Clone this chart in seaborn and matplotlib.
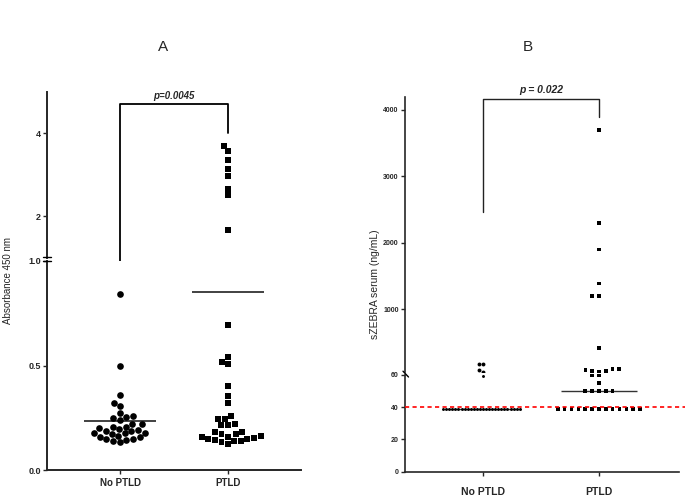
import matplotlib
matplotlib.use("Agg")
import matplotlib.pyplot as plt
import numpy as np
import seaborn as sns
from matplotlib.lines import Line2D
from matplotlib.transforms import Bbox, TransformedBbox

# ---- data ----
GROUPS = ["No PTLD", "PTLD"]

# panel A: absorbance at 450 nm (mean line)
A_NO_PTLD = [0.844, 0.498, 0.36, 0.322, 0.306, 0.271, 0.26, 0.255, 0.247, 0.238,
             0.219, 0.219, 0.207, 0.204, 0.2, 0.195, 0.193, 0.188, 0.185, 0.178,
             0.178, 0.175, 0.172, 0.163, 0.16, 0.156, 0.148, 0.148, 0.144, 0.14, 0.132]
A_PTLD = [3.69, 3.56, 3.35, 3.13, 2.97, 2.66, 2.50, 1.67,
          0.694, 0.542, 0.517, 0.506, 0.403, 0.353, 0.319, 0.26, 0.243, 0.243,
          0.22, 0.215, 0.215, 0.18, 0.18, 0.17, 0.17, 0.165, 0.16, 0.16, 0.155,
          0.15, 0.15, 0.145, 0.14, 0.14, 0.135, 0.125]
A_BREAK = 1.0
A_P = "p=0.0045"

# panel B: sZEBRA serum, ng/mL (median line)
B_NO_PTLD = [38.8] * 26 + [59, 61, 85, 170, 170]
B_PTLD = [3700, 2300, 1900, 1390, 1200, 1200, 415, 100, 100, 82, 72, 72, 61,
          59.5, 59.5, 54.7] + [50] * 5 + [38.8] * 13
B_BREAK = 60
B_CUTOFF = 40
B_P = "p = 0.022"

W, H = 685, 499

sns.set_style("ticks")
plt.rcParams["font.family"] = ["Liberation Sans", "DejaVu Sans"]

fig = plt.figure(figsize=(W / 100, H / 100), dpi=100)


def box(x0, y0, x1, y1):
    return [x0 / W, 1 - y1 / H, (x1 - x0) / W, (y1 - y0) / H]


def fig_line(xs, ys, lw=1.0):
    fig.add_artist(Line2D([x / W for x in xs], [1 - y / H for y in ys],
                          transform=fig.transFigure, color="black", lw=lw))


def swarm(ax, group, vals, marker, size, spacing_lw=0.0):
    if len(vals) == 0:
        return
    sns.swarmplot(x=[group] * len(vals), y=vals, order=GROUPS, ax=ax,
                  color="black", marker=marker, size=size, linewidth=spacing_lw)
    coll = ax.collections[-1]
    coll.set_edgecolor("none")
    # let markers sitting on the break edge show, but nothing far outside
    coll.set_clip_box(TransformedBbox(Bbox([[-0.05, -0.04], [1.05, 1.04]]),
                                      ax.transAxes))


def style(ax, top, lw, fs, xlim):
    for s in ["top", "right"]:
        ax.spines[s].set_visible(False)
    ax.spines["left"].set_linewidth(lw)
    ax.spines["bottom"].set_linewidth(lw)
    ax.tick_params(axis="y", direction="out", length=3, width=1, pad=1.5,
                   labelsize=fs)
    for t in ax.get_yticklabels():
        t.set_fontweight("bold")
    if top:
        ax.spines["bottom"].set_visible(False)
        ax.tick_params(axis="x", bottom=False, labelbottom=False)
    ax.set_xlim(*xlim)
    ax.set_xlabel("")
    ax.set_ylabel("")


# ---------------- panel A ----------------
a_top = fig.add_axes(box(47, 92, 301, 257.5))
a_bot = fig.add_axes(box(47, 261, 301, 470))

a_no = np.array(A_NO_PTLD)
a_pt = np.array(A_PTLD)
swarm(a_top, "No PTLD", a_no[a_no > A_BREAK], "o", 4.8)
swarm(a_top, "PTLD", a_pt[a_pt > A_BREAK], "s", 4.3, 0.4)
swarm(a_bot, "No PTLD", a_no[a_no <= A_BREAK], "o", 4.8)
swarm(a_bot, "PTLD", a_pt[a_pt <= A_BREAK], "s", 4.3, 0.4)

for i, vals in enumerate([a_no, a_pt]):
    a_bot.hlines(np.mean(vals), i - 0.333, i + 0.333, color="#333333", lw=1.3)

a_top.set_ylim(A_BREAK, 4.99)
a_top.set_yticks([2, 4])
a_top.set_yticklabels(["2", "4"])
a_bot.set_ylim(0, A_BREAK)
a_bot.set_yticks([0, 0.5, 1.0])
a_bot.set_yticklabels(["0.0", "0.5", "1.0"])
a_bot.set_xticks([0, 1])
a_bot.set_xticklabels(GROUPS, fontsize=7, fontweight="bold")
a_bot.tick_params(axis="x", length=3, width=1, pad=2.5)

xl_a = (-0.676, 1.676)
style(a_top, True, 1.4, 6.5, xl_a)
style(a_bot, False, 1.4, 6.5, xl_a)

# significance bracket
a_top.plot([0, 0, 1, 1], [0.92, 4.70, 4.70, 4.0], color="black", lw=1.3,
           clip_on=False)
a_top.text(0.5, 4.90, A_P, ha="center", va="center", fontsize=7,
           fontweight="bold", style="italic")

# axis break marks
fig_line([43.5, 50.5], [257.2, 257.2], lw=1.0)
fig_line([43.5, 50.5], [260.6, 260.6], lw=1.0)

# ---------------- panel B ----------------
b_top = fig.add_axes(box(405, 96.7, 679, 371.7))
b_bot = fig.add_axes(box(405, 374.7, 679, 471.7))

b_no = np.array(B_NO_PTLD)
b_pt = np.array(B_PTLD)
swarm(b_top, "No PTLD", b_no[b_no > B_BREAK], "o", 2.8)
swarm(b_top, "PTLD", b_pt[b_pt > B_BREAK], "s", 2.6, 2.1)
swarm(b_bot, "No PTLD", b_no[b_no <= B_BREAK], "o", 2.1)
swarm(b_bot, "PTLD", b_pt[b_pt <= B_BREAK], "s", 2.6, 2.1)

for i, vals in enumerate([b_no, b_pt]):
    b_bot.hlines(np.median(vals), i - 0.33, i + 0.33, color="#333333", lw=1.0)

b_bot.axhline(B_CUTOFF, color="red", ls=(0, (2.5, 2)), lw=1.2, xmax=1.03,
              clip_on=False, zorder=5)

b_top.set_ylim(B_BREAK, 4200)
b_top.set_yticks([1000, 2000, 3000, 4000])
b_top.set_yticklabels(["1000", "2000", "3000", "4000"])
b_bot.set_ylim(0, B_BREAK)
b_bot.set_yticks([0, 20, 40, 60])
b_bot.set_yticklabels(["0", "20", "40", "60"])
b_bot.set_xticks([0, 1])
b_bot.set_xticklabels(GROUPS, fontsize=7.5, fontweight="bold")
b_bot.tick_params(axis="x", length=3, width=1, pad=8)

xl_b = (-0.672, 1.69)
style(b_top, True, 1.2, 5, xl_b)
style(b_bot, False, 1.2, 5, xl_b)

b_top.plot([0, 0, 1, 1], [2460, 4165, 4165, 3890], color="#222222", lw=1.0,
           clip_on=False)
b_top.text(0.5, 4305, B_P, ha="center", va="center", fontsize=7.5,
           fontweight="bold", style="italic")

fig_line([403.0, 408.5], [371.2, 377.0], lw=1.0)

# ---------------- titles and axis labels ----------------
fig.text(163 / W, 1 - 47 / H, "A", ha="center", va="center", fontsize=11)
fig.text(528 / W, 1 - 47 / H, "B", ha="center", va="center", fontsize=11)
fig.text(8 / W, 1 - 281 / H, "Absorbance 450 nm", rotation=90,
         ha="center", va="center", fontsize=7)
fig.text(375 / W, 1 - 284 / H, "sZEBRA serum (ng/mL)", rotation=90,
         ha="center", va="center", fontsize=7.5)

fig.savefig("out.png", dpi=100)
plt.close(fig)
